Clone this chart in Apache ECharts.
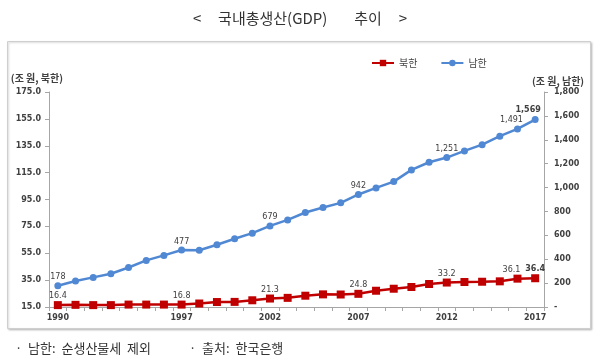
<!DOCTYPE html>
<html><head><meta charset="utf-8">
<script src="https://cdn.jsdelivr.net/npm/echarts@6/dist/echarts.min.js"></script>
<style>html,body{margin:0;padding:0;background:#fff}#c{width:600px;height:361px}</style>
</head><body><div id="c"></div>
<script>
var years = ['1990','1991','1992','1993','1994','1995','1996','1997','1998','1999','2000','2001','2002','2003','2004','2005','2006','2007','2008','2009','2010','2011','2012','2013','2014','2015','2016','2017'];
var north = [16.4,16.6,16.4,16.4,16.8,16.8,16.8,16.8,17.6,18.7,18.8,20.0,21.3,21.8,23.4,24.4,24.3,24.8,27.1,28.6,29.9,32.1,33.2,33.6,33.8,34.1,36.1,36.4];
var south = [178,217,248,278,331,390,432,477,475,521,571,618,679,729,791,833,872,942,997,1050,1148,1212,1251,1307,1359,1430,1491,1569];
var xLabelYears = ['1990','1997','2002','2007','2012','2017'];
var dataLabelYears = ['1990','1997','2002','2007','2012','2016','2017'];
var leftTicks = {min:15, max:175, interval:20};
var rightTicks = {min:0, max:1800, interval:200};

var numFont = 'DejaVu Sans';
var krFont = 'Noto Sans CJK KR';
function fmtComma(v){ return v.toLocaleString('en-US'); }

function buildData(vals, isSouth){
  return vals.map(function(v,i){
    var y = years[i];
    var show = dataLabelYears.indexOf(y) >= 0;
    var item = {value:v};
    if (show) {
      var off = [0,0];
      if (y === '2016') off = [-6,0];
      if (y === '2017' && isSouth) off = [-7,-1];
      item.label = {show:true, offset:off, fontWeight: y==='2017' ? 'bold' : 'normal'};
    }
    return item;
  });
}

var chart = echarts.init(document.getElementById('c'), null, {renderer:'canvas'});
chart.setOption({
  backgroundColor:'#fff',
  animation:false,
  title:{
    text:'<     국내총생산(GDP)        추이     >',
    left:'center', top:6,
    textStyle:{fontFamily:krFont, fontSize:15, fontWeight:'normal', color:'#333'}
  },
  legend:{
    data:['북한','남한'],
    left:366, top:53,
    itemWidth:22, itemHeight:8, itemGap:23,
    textStyle:{fontFamily:krFont, fontSize:10, color:'#444'}
  },
  grid:{left:49, right:56, top:92, bottom:54, containLabel:false},
  xAxis:{
    type:'category', data:years, boundaryGap:true,
    axisLine:{lineStyle:{color:'#a6a6a6', width:1}},
    axisTick:{show:true, interval:0, length:4, lineStyle:{color:'#a6a6a6'}},
    axisLabel:{
      interval:function(i, v){ return xLabelYears.indexOf(v) >= 0; },
      fontFamily:numFont, fontSize:8, fontWeight:'bold', color:'#404040', margin:7
    },
    splitLine:{show:false}
  },
  yAxis:[
    {
      type:'value', position:'left', min:leftTicks.min, max:leftTicks.max, interval:leftTicks.interval,
      name:'(조 원, 북한)', nameLocation:'end', nameGap:9,
      nameTextStyle:{fontFamily:krFont, fontSize:10, fontWeight:'bold', color:'#404040', align:'right', padding:[0,-14,0,0]},
      axisLine:{show:true, lineStyle:{color:'#a6a6a6'}},
      axisTick:{show:true, length:4, lineStyle:{color:'#a6a6a6'}},
      axisLabel:{formatter:function(v){return v.toFixed(1);}, fontFamily:numFont, fontSize:8, fontWeight:'bold', color:'#404040', margin:8},
      splitLine:{show:false}
    },
    {
      type:'value', position:'right', min:rightTicks.min, max:rightTicks.max, interval:rightTicks.interval,
      name:'(조 원, 남한)', nameLocation:'end', nameGap:6,
      nameTextStyle:{fontFamily:krFont, fontSize:10, fontWeight:'bold', color:'#404040', align:'left', padding:[0,0,0,-12]},
      axisLine:{show:true, lineStyle:{color:'#a6a6a6'}},
      axisTick:{show:true, length:4, lineStyle:{color:'#a6a6a6'}},
      axisLabel:{formatter:function(v){return v===0 ? '-' : fmtComma(v);}, fontFamily:numFont, fontSize:8, fontWeight:'bold', color:'#404040', margin:10},
      splitLine:{show:false}
    }
  ],
  series:[
    {
      name:'북한', type:'line', yAxisIndex:0, data:buildData(north,false),
      symbol:'rect', symbolSize:8,
      lineStyle:{color:'#C00000', width:2.5},
      itemStyle:{color:'#C00000'},
      label:{position:'top', distance:1, fontFamily:numFont, fontSize:8, color:'#404040',
        formatter:function(p){return p.value.toFixed(1);}}
    },
    {
      name:'남한', type:'line', yAxisIndex:1, data:buildData(south,true),
      symbol:'circle', symbolSize:7,
      lineStyle:{color:'#5088D3', width:2.5},
      itemStyle:{color:'#5088D3'},
      label:{position:'top', distance:1, fontFamily:numFont, fontSize:8, color:'#404040',
        formatter:function(p){return fmtComma(p.value);}}
    }
  ],
  graphic:[
    {type:'rect', z:-10, shape:{x:7.5, y:41.5, width:583, height:287},
     style:{fill:'#fff', stroke:'#cfcfcf', lineWidth:1, shadowBlur:2, shadowColor:'rgba(0,0,0,0.2)', shadowOffsetX:1, shadowOffsetY:1}},
    {type:'text', left:15, top:342, style:{text:'·  남한:  순생산물세  제외', fontFamily:krFont, fontSize:13, fill:'#333'}},
    {type:'text', left:189, top:342, style:{text:'·  출처:  한국은행', fontFamily:krFont, fontSize:13, fill:'#333'}}
  ]
});
</script>
</body></html>
